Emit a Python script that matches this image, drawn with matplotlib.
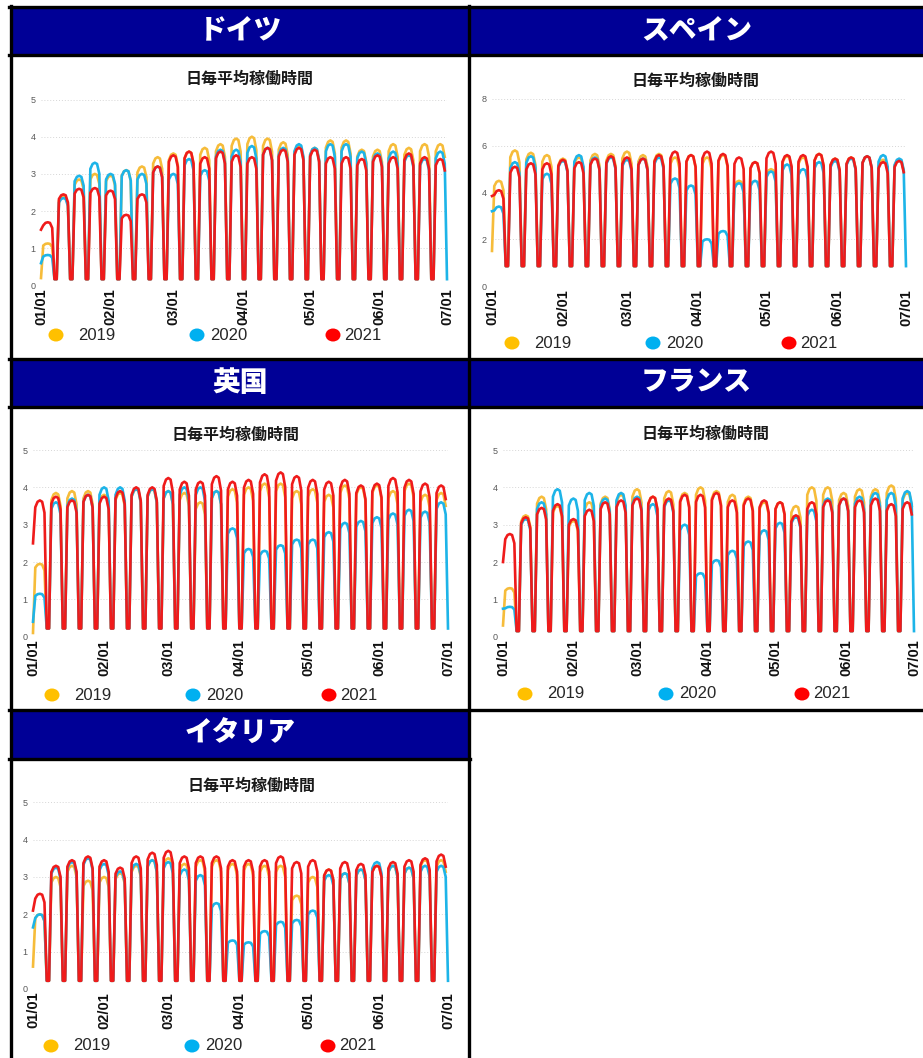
import matplotlib
matplotlib.use('Agg')
import matplotlib.pyplot as plt
from matplotlib.patches import Rectangle, Ellipse
from matplotlib.lines import Line2D
from matplotlib.transforms import IdentityTransform

plt.rcParams['font.family'] = ['Liberation Sans', 'Noto Sans CJK JP']

# x axis (day index from 01/01)
tick_days = [0, 31, 59, 90, 120, 151, 181]
tick_labels = ['01/01', '02/01', '03/01', '04/01', '05/01', '06/01', '07/01']
years = ['2019', '2020', '2021']
last_day = [180, 181, 180]
line_colors = ['#F6BC3A', '#1DB4E8', '#EF1B1B']
dot_colors = ['#FFC000', '#00B0F0', '#FF0000']
chart_title = '日毎平均稼働時間'

# Mon..Fri relative to the week's peak, read from the rounded tops
weekday_shape = [0.95, 0.99, 1.0, 0.99, 0.91]

# weekly peak of each Mon-Fri block
de_2019 = [1.13, 2.4, 2.85, 3.0, 2.95, 3.1, 3.2, 3.45, 3.55, 3.6, 3.7, 3.8, 3.95, 4.0, 3.95, 3.85,
           3.75, 3.7, 3.9, 3.9, 3.65, 3.65, 3.8, 3.7, 3.8, 3.8]
de_2020 = [0.82, 2.35, 2.95, 3.3, 3.0, 3.1, 3.0, 3.2, 3.0, 3.4, 3.1, 3.65, 3.65, 3.75, 3.7, 3.7,
           3.8, 3.7, 3.8, 3.8, 3.6, 3.55, 3.6, 3.5, 3.4, 3.6]
de_2021 = [1.7, 2.45, 2.6, 2.62, 2.55, 1.9, 2.45, 3.2, 3.5, 3.6, 3.45, 3.6, 3.5, 3.45, 3.7, 3.65,
           3.7, 3.65, 3.45, 3.45, 3.4, 3.5, 3.45, 3.55, 3.45, 3.4]
de_first = [0.2, 0.6, 1.5]
de_low = 0.17

es_2019 = [4.5, 5.8, 5.7, 5.6, 5.45, 5.5, 5.65, 5.65, 5.75, 5.6, 5.65, 5.5, 5.6, 5.5, 5.6, 4.5,
           5.3, 5.0, 5.55, 5.5, 5.65, 5.45, 5.5, 5.55, 5.4, 5.4]
es_2020 = [3.4, 5.3, 5.55, 4.8, 5.35, 5.6, 5.5, 5.5, 5.4, 5.45, 5.5, 4.6, 4.3, 2.0, 2.35, 4.4,
           4.5, 4.9, 5.2, 5.0, 5.3, 5.35, 5.45, 5.55, 5.6, 5.45]
es_2021 = [4.1, 5.1, 5.25, 5.25, 5.4, 5.3, 5.45, 5.55, 5.5, 5.45, 5.6, 5.75, 5.6, 5.75, 5.65, 5.5,
           5.3, 5.75, 5.6, 5.6, 5.65, 5.45, 5.5, 5.55, 5.3, 5.35]
es_first = [1.5, 3.2, 3.85]
es_low = 0.85

uk_2019 = [1.95, 3.85, 3.9, 3.9, 3.8, 3.85, 3.95, 3.95, 3.9, 3.85, 3.6, 3.9, 3.95, 4.0, 4.1, 4.1,
           3.9, 3.95, 3.8, 4.05, 4.0, 4.05, 3.9, 4.1, 3.8, 3.85]
uk_2020 = [1.15, 3.6, 3.7, 3.8, 4.0, 4.0, 3.95, 3.95, 3.9, 4.0, 4.0, 3.9, 2.9, 2.35, 2.3, 2.45,
           2.6, 2.6, 2.8, 3.05, 3.1, 3.2, 3.3, 3.4, 3.35, 3.6]
uk_2021 = [3.65, 3.75, 3.65, 3.8, 3.75, 3.9, 4.0, 4.0, 4.25, 4.15, 4.15, 4.3, 4.15, 4.2, 4.35, 4.4,
           4.3, 4.2, 4.15, 4.2, 4.05, 4.1, 4.25, 4.2, 4.1, 4.05]
uk_first = [0.1, 0.4, 2.5]
uk_low = 0.22

fr_2019 = [1.3, 3.25, 3.75, 3.5, 3.1, 3.6, 3.75, 3.8, 3.95, 3.75, 3.9, 3.85, 4.0, 3.9, 3.8, 3.75,
           3.6, 3.6, 3.5, 4.0, 4.0, 3.85, 3.95, 3.95, 4.05, 3.85]
fr_2020 = [0.8, 3.15, 3.6, 3.95, 3.7, 3.85, 3.7, 3.85, 3.75, 3.55, 3.65, 3.0, 1.7, 2.05, 2.3, 2.55,
           2.85, 3.05, 3.2, 3.4, 3.7, 3.7, 3.75, 3.85, 3.85, 3.9]
fr_2021 = [2.75, 3.2, 3.45, 3.55, 3.15, 3.4, 3.6, 3.65, 3.7, 3.75, 3.7, 3.8, 3.8, 3.85, 3.65, 3.7,
           3.65, 3.6, 3.25, 3.6, 3.65, 3.7, 3.65, 3.7, 3.55, 3.6]
fr_first = [0.3, 0.75, 2.0]
fr_low = 0.15

it_2019 = [2.0, 3.0, 3.3, 2.9, 3.0, 3.1, 3.3, 3.45, 3.5, 3.35, 3.45, 3.45, 3.35, 3.35, 3.3, 3.3,
           2.5, 3.0, 3.2, 3.1, 3.2, 3.3, 3.3, 3.25, 3.45, 3.45]
it_2020 = [2.0, 3.25, 3.4, 3.5, 3.35, 3.15, 3.35, 3.45, 3.4, 3.2, 3.05, 2.3, 1.3, 1.25, 1.55, 1.8,
           1.85, 2.1, 3.05, 3.1, 3.2, 3.4, 3.3, 3.25, 3.3, 3.3]
it_2021 = [2.55, 3.3, 3.45, 3.55, 3.45, 3.25, 3.55, 3.65, 3.7, 3.55, 3.55, 3.55, 3.45, 3.45, 3.45, 3.55,
           3.4, 3.45, 3.2, 3.4, 3.35, 3.3, 3.4, 3.45, 3.5, 3.6]
it_first = [0.6, 1.65, 2.1]
it_low = 0.22

W, H = 923, 1058
NAVY = '#000096'
fig = plt.figure(figsize=(W / 100, H / 100), dpi=100)


def fbox(x0, y0, x1, y1):
    return [x0 / W, 1 - y1 / H, (x1 - x0) / W, (y1 - y0) / H]


def daily(first, levels, low, last):
    # weekdays follow the week's peak, weekends (day%7 in 6,0) sit at the low value
    vals = []
    for d in range(last + 1):
        if d == 0:
            vals.append(first)
        elif d % 7 in (6, 0):
            vals.append(low)
        else:
            vals.append(levels[(d - 1) // 7] * weekday_shape[(d - 1) % 7])
    return vals


# panel layout in pixels
panels = [
    dict(name='ドイツ', cell=(10, 7, 470, 55), series=[de_2019, de_2020, de_2021], first=de_first, low=de_low,
         plot=(41, 447, 99.5, 285.5), ymax=5, ystep=1, title=(249, 79), leg=(56, 335)),
    dict(name='スペイン', cell=(470, 7, 923, 55), series=[es_2019, es_2020, es_2021], first=es_first, low=es_low,
         plot=(492, 906, 99, 286), ymax=8, ystep=2, title=(695, 81), leg=(512, 343)),
    dict(name='英国', cell=(10, 359, 470, 406), series=[uk_2019, uk_2020, uk_2021], first=uk_first, low=uk_low,
         plot=(33, 448, 450, 636.7), ymax=5, ystep=1, title=(236, 435), leg=(52, 695)),
    dict(name='フランス', cell=(470, 359, 923, 406), series=[fr_2019, fr_2020, fr_2021], first=fr_first, low=fr_low,
         plot=(503, 914, 450, 636.7), ymax=5, ystep=1, title=(706, 434), leg=(525, 694)),
    dict(name='イタリア', cell=(10, 710, 470, 758), series=[it_2019, it_2020, it_2021], first=it_first, low=it_low,
         plot=(33, 448, 802.3, 989), ymax=5, ystep=1, title=(252, 786), leg=(51, 1046)),
]

for p in panels:
    x0, y0, x1, y1 = p['cell']
    fig.add_artist(Rectangle((x0 / W, 1 - y1 / H), (x1 - x0) / W, (y1 - y0) / H,
                             transform=fig.transFigure, facecolor=NAVY, edgecolor='none', zorder=1))
    fig.text((x0 + x1) / 2 / W, 1 - (y0 + y1) / 2 / H, p['name'], color='white', fontsize=20,
             fontweight='heavy', family=['Noto Sans CJK JP'], ha='center', va='center', zorder=3)

    xl, xr, yt, yb = p['plot']
    ax = fig.add_axes(fbox(xl, yt, xr, yb))
    ax.set_facecolor('none')
    for i in range(3):
        ys = daily(p['first'][i], p['series'][i], p['low'], last_day[i])
        ax.plot(range(len(ys)), ys, color=line_colors[i], lw=1.9, clip_on=False,
                solid_joinstyle='round', zorder=2 + i)
    ax.set_xlim(0, 181)
    ax.set_ylim(0, p['ymax'])
    ax.set_yticks(range(0, p['ymax'] + 1, p['ystep']))
    ax.set_xticks(tick_days, tick_labels, rotation=90, fontweight='bold', fontsize=10.5)
    ax.tick_params(axis='y', length=0, labelsize=6.5, labelcolor='#595959', pad=4)
    ax.tick_params(axis='x', length=0, pad=2, labelcolor='#111111')
    ax.yaxis.grid(True, color='#D6D6D6', linestyle=(0, (1, 2)), lw=0.7)
    ax.set_axisbelow(True)
    for s in ax.spines.values():
        s.set_visible(False)

    tx, ty = p['title']
    fig.text(tx / W, 1 - ty / H, chart_title, fontsize=11.5, fontweight='bold',
             family=['Noto Sans CJK JP'], ha='center', va='center', color='#1a1a1a')

    lx, ly = p['leg']
    for i, (dx, tdx) in enumerate([(0, 22), (141, 13), (277, 11)]):
        fig.add_artist(Ellipse((lx + dx, H - ly), 15, 13, transform=IdentityTransform(),
                               facecolor=dot_colors[i], edgecolor='none'))
        fig.text((lx + dx + tdx) / W, 1 - ly / H, years[i], fontsize=12, ha='left', va='center',
                 color='#262626')

# black frame lines
lw = 2.4
for y, xa, xb in [(7, 9, 923), (55, 9, 923), (358.5, 9, 923), (406.5, 9, 923),
                  (709.5, 9, 923), (758.5, 9, 470)]:
    fig.add_artist(Line2D([xa / W, xb / W], [1 - y / H, 1 - y / H], color='black', lw=lw,
                          transform=fig.transFigure, zorder=5))
for x in [10.5, 469.5]:
    fig.add_artist(Line2D([x / W, x / W], [1 - 6 / H, 0], color='black', lw=lw,
                          transform=fig.transFigure, zorder=5))

fig.savefig('out.png', dpi=100)
